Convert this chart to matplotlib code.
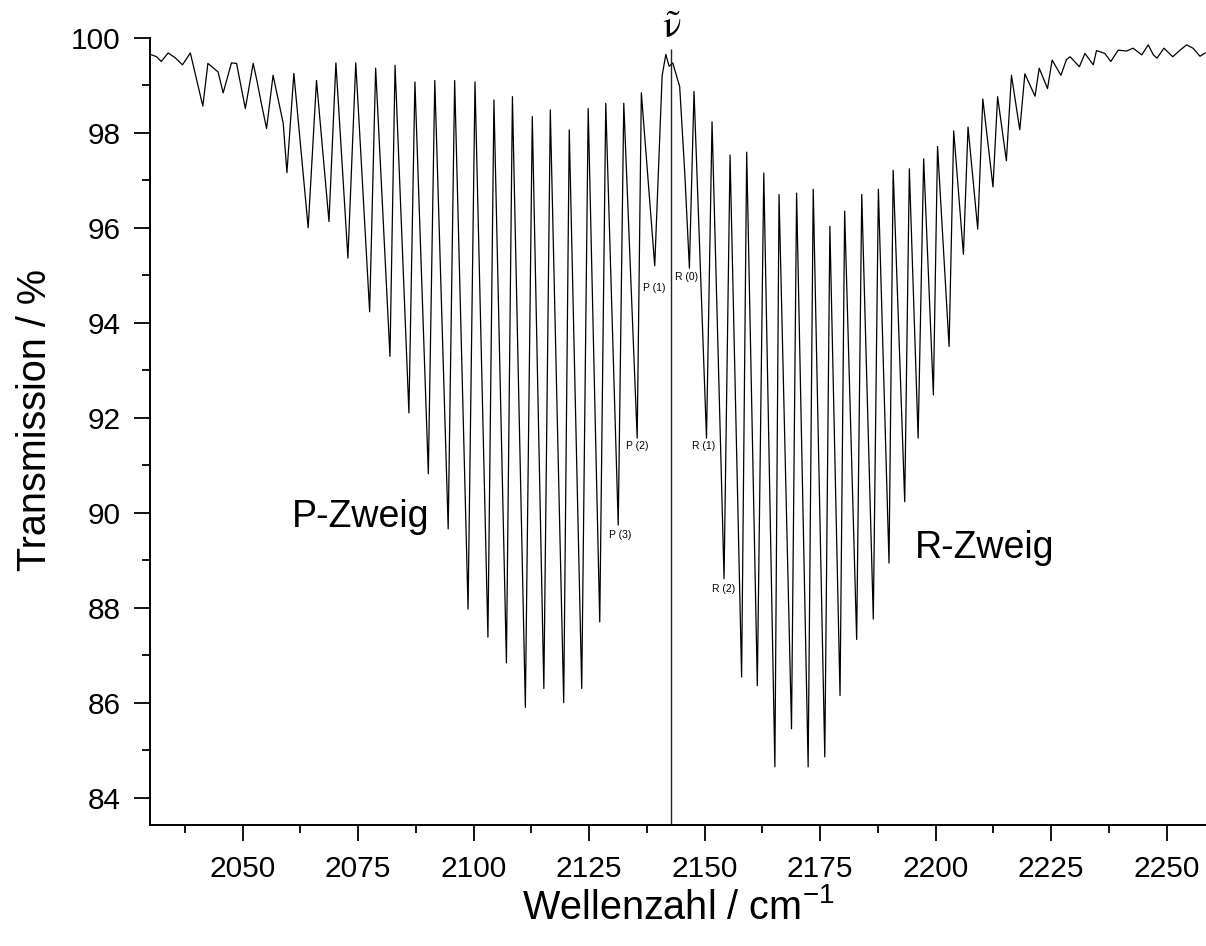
import numpy as np
import matplotlib
matplotlib.use('Agg')
import matplotlib.pyplot as plt
from matplotlib.ticker import MultipleLocator

plt.rcParams['font.family'] = ['Liberation Sans', 'DejaVu Sans']
plt.rcParams['mathtext.fontset'] = 'custom'
plt.rcParams['mathtext.rm'] = 'Liberation Sans'
plt.rcParams['mathtext.it'] = 'Liberation Sans:italic'
plt.rcParams['mathtext.bf'] = 'Liberation Sans:bold'

# ---- data ----
# left wing (incl. weak high-J P lines and shoulders)
wing_left_wn = [2030.3, 2031.4, 2032.4, 2033.9, 2035.4, 2037.0, 2038.7, 2041.4, 2042.5,
                2044.7, 2045.8, 2047.6, 2048.7, 2050.6, 2052.3, 2053.1, 2054.1, 2058.8]
wing_left_T = [99.64, 99.60, 99.50, 99.68, 99.58, 99.43, 99.68, 98.56, 99.46,
               99.28, 98.84, 99.47, 99.46, 98.51, 99.46, 99.10, 98.60, 98.20]

# P branch: line minima (P(21) ... P(1))
p_min_wn = [2055.2, 2059.6, 2064.2, 2068.7, 2072.8, 2077.5, 2081.9, 2086.0, 2090.2, 2094.5,
            2098.8, 2103.1, 2107.1, 2111.2, 2115.2, 2119.5, 2123.4, 2127.3, 2131.3, 2135.4, 2139.2]
p_min_T = [98.09, 97.16, 96.00, 96.13, 95.36, 94.23, 93.29, 92.10, 90.82, 89.66,
           87.97, 87.38, 86.84, 85.90, 86.30, 86.00, 86.30, 87.70, 89.74, 91.57, 95.20]
# P branch: maxima between lines
p_max_wn = [2056.6, 2061.1, 2066.0, 2070.2, 2074.5, 2078.8, 2083.0, 2087.3, 2091.6, 2095.9,
            2100.3, 2104.4, 2108.4, 2112.7, 2116.6, 2120.7, 2124.8, 2128.6, 2132.5, 2136.3]
p_max_T = [99.21, 99.25, 99.10, 99.47, 99.47, 99.36, 99.42, 99.07, 99.10, 99.10,
           99.07, 98.69, 98.76, 98.34, 98.48, 98.06, 98.51, 98.62, 98.62, 98.84]

# band centre (gap between P(1) and R(0))
centre_wn = [2140.8, 2141.6, 2142.3, 2143.1, 2144.6, 2145.7]
centre_T = [99.20, 99.65, 99.40, 99.47, 98.97, 97.15]

# R branch: line minima (R(0) ... R(24))
r_min_wn = [2146.7, 2150.4, 2154.2, 2158.0, 2161.4, 2165.2, 2168.8, 2172.4, 2176.0, 2179.3,
            2182.9, 2186.5, 2189.9, 2193.3, 2196.2, 2199.5, 2202.9, 2206.0, 2209.1, 2212.4,
            2215.3, 2218.2, 2221.5, 2224.2, 2227.1]
r_min_T = [95.15, 91.57, 88.61, 86.54, 86.36, 84.65, 85.45, 84.65, 84.86, 86.15,
           87.33, 87.76, 88.94, 90.23, 91.57, 92.48, 93.50, 95.44, 95.97, 96.86,
           97.41, 98.06, 98.77, 98.93, 99.21]
# R branch: maxima between lines
r_max_wn = [2147.7, 2151.6, 2155.5, 2159.1, 2162.8, 2166.1, 2169.9, 2173.5, 2177.1, 2180.3,
            2184.0, 2187.6, 2190.8, 2194.3, 2197.4, 2200.4, 2203.9, 2207.0, 2210.2, 2213.4,
            2216.4, 2219.3, 2222.4, 2225.2, 2228.3]
r_max_T = [98.87, 98.23, 97.53, 97.59, 97.15, 96.70, 96.73, 96.81, 96.03, 96.35,
           96.70, 96.81, 97.21, 97.24, 97.45, 97.71, 98.04, 98.12, 98.71, 98.76,
           99.21, 99.24, 99.36, 99.53, 99.54]

# right wing
wing_right_wn = [2229.1, 2231.1, 2232.3, 2234.1, 2234.8, 2236.6, 2237.9, 2239.5, 2241.3, 2242.7,
                 2244.6, 2246.0, 2247.1, 2247.9, 2249.4, 2251.3, 2252.9, 2254.3, 2255.7, 2257.2, 2258.3]
wing_right_T = [99.60, 99.39, 99.67, 99.43, 99.73, 99.67, 99.50, 99.74, 99.72, 99.78,
                99.64, 99.85, 99.64, 99.57, 99.78, 99.60, 99.74, 99.85, 99.78, 99.61, 99.68]

# band origin marker
nu0 = 2142.8
nu0_top = 99.76

# line labels
ann_text = ['P (1)', 'R (0)', 'P (2)', 'R (1)', 'P (3)', 'R (2)']
ann_wn = [2139.2, 2146.0, 2135.4, 2149.7, 2131.7, 2154.2]
ann_T = [94.74, 94.97, 91.41, 91.41, 89.53, 88.40]

branch_text = ['P-Zweig', 'R-Zweig']
branch_wn = [2075.5, 2210.5]
branch_T = [89.91, 89.26]

x_ticks_major = 25
x_ticks_minor = 12.5
y_ticks_major = 2
y_ticks_minor = 1

# ---- build spectrum ----
wn = np.concatenate([wing_left_wn, p_min_wn, p_max_wn, centre_wn, r_min_wn, r_max_wn, wing_right_wn])
T = np.concatenate([wing_left_T, p_min_T, p_max_T, centre_T, r_min_T, r_max_T, wing_right_T])
order = np.argsort(wn, kind='stable')
wn = wn[order]
T = T[order]

fig = plt.figure(figsize=(12.06, 9.46), dpi=100)
ax = fig.add_axes([0.1245, 0.1279, 0.8755, 0.8322])
ax.plot(wn, T, color='black', lw=0.9)

ymin = 83.425
ax.set_xlim(2030.0, 2258.5)
ax.set_ylim(ymin, 100.0)
ax.vlines(nu0, ymin, nu0_top, color='#222222', lw=1.0)

for s in ['top', 'right']:
    ax.spines[s].set_visible(False)
for s in ['left', 'bottom']:
    ax.spines[s].set_linewidth(1.4)

ax.xaxis.set_major_locator(MultipleLocator(x_ticks_major))
ax.xaxis.set_minor_locator(MultipleLocator(x_ticks_minor))
ax.yaxis.set_major_locator(MultipleLocator(y_ticks_major))
ax.yaxis.set_minor_locator(MultipleLocator(y_ticks_minor))
ax.tick_params(which='major', direction='out', length=11.3, width=1.3, labelsize=21.5, pad=10)
ax.tick_params(which='minor', direction='out', length=6, width=1.3)

ax.set_xlabel('Wellenzahl / cm$^{-1}$', fontsize=28.5)
ax.xaxis.set_label_coords(0.5, -0.105)
ax.xaxis.label.set_va('center')
ax.set_ylabel('Transmission / %', fontsize=28.5)
ax.yaxis.set_label_coords(-0.109, 0.515)
ax.yaxis.label.set_va('center')

for t, x, y in zip(ann_text, ann_wn, ann_T):
    ax.text(x, y, t, fontsize=7.5, ha='center', va='center')
for t, x, y in zip(branch_text, branch_wn, branch_T):
    ax.text(x, y, t, fontsize=27, ha='center', va='center')

ax.text(nu0, 100.21, r'$\tilde{\mathrm{\nu}}$', fontsize=28, ha='center', va='center',
        math_fontfamily='stix', clip_on=False, fontweight='bold')

fig.savefig('out.png', dpi=100)
